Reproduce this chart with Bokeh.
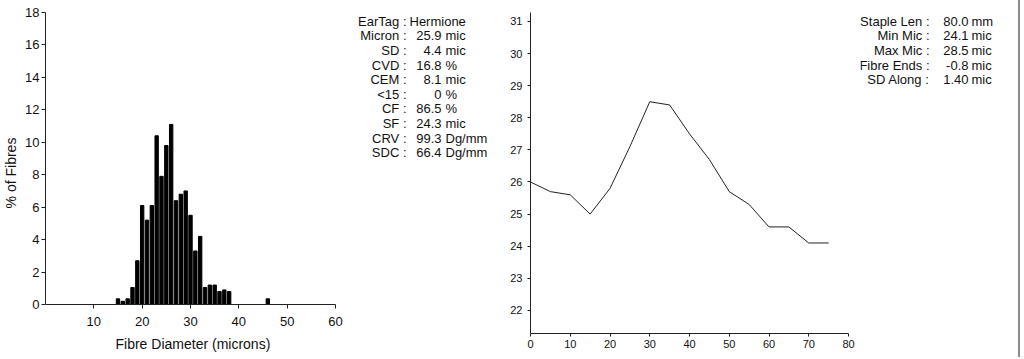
from bokeh.plotting import figure
from bokeh.layouts import row
from bokeh.models import FixedTicker, Range1d, Div, Title
from bokeh.core.properties import value
from bokeh.embed import file_html
from bokeh.resources import INLINE

# ---------------- data ----------------
diam_bins = [15, 16, 17, 18, 19, 20, 21, 22, 23, 24, 25, 26, 27, 28, 29, 30,
             31, 32, 33, 34, 35, 36, 37, 38, 46]
pct_fibres = [0.35, 0.2, 0.35, 1.05, 2.7, 6.1, 5.2, 6.1, 10.4, 7.9, 9.8, 11.1,
              6.4, 6.8, 7.0, 5.5, 3.3, 4.2, 1.05, 1.2, 1.2, 0.8, 0.9, 0.8, 0.35]

hist_xticks = [10, 20, 30, 40, 50, 60]
hist_yticks = [0, 2, 4, 6, 8, 10, 12, 14, 16, 18]

profile_pos = [0, 5, 10, 15, 20, 25, 30, 35, 40, 45, 50, 55, 60, 65, 70, 75]
profile_mic = [26.0, 25.7, 25.6, 25.0, 25.8, 27.1, 28.5, 28.4, 27.5, 26.7,
               25.7, 25.3, 24.6, 24.6, 24.1, 24.1]

prof_xticks = [0, 10, 20, 30, 40, 50, 60, 70, 80]
prof_yticks = [22, 23, 24, 25, 26, 27, 28, 29, 30, 31]

stats_labels = ["EarTag :", "Micron :", "SD :", "CVD :", "CEM :", "<15 :",
                "CF :", "SF :", "CRV :", "SDC :"]
stats_numbers = ["", "25.9", "4.4", "16.8", "8.1", "0", "86.5", "24.3",
                 "99.3", "66.4"]
stats_units = ["", "mic", "mic", "%", "mic", "%", "%", "mic", "Dg/mm", "Dg/mm"]
eartag = "Hermione"

prof_labels = ["Staple Len :", "Min Mic :", "Max Mic :", "Fibre Ends :",
               "SD Along :"]
prof_numbers = ["80.0", "24.1", "28.5", "-0.8", "1.40"]
prof_units = ["mm", "mic", "mic", "mic", "mic"]

FONT = "Liberation Sans"
TXT = "#111111"
H = 357
TOP = 12          # frame top (page px) shared by every figure of the row
BOT = 333         # frame bottom (page px) shared by every figure of the row


def style_axes(p, label_size):
    for ax in (p.xaxis, p.yaxis):
        ax.axis_line_color = "#222222"
        ax.axis_line_width = 1
        ax.major_tick_line_color = "#222222"
        ax.minor_tick_line_color = None
        ax.major_tick_in = 0
        ax.major_tick_out = 4
        ax.major_label_text_font = FONT
        ax.major_label_text_font_size = label_size
        ax.major_label_text_color = TXT
        ax.axis_label_text_font = FONT
        ax.axis_label_text_font_style = "normal"
        ax.axis_label_text_font_size = "14px"
        ax.axis_label_text_color = TXT
    p.grid.visible = False
    p.outline_line_color = None


# ---------------- histogram ----------------
# frame spans 12..333 (page y); value 0 sits at page y 304, 18 at page y 12
hist_ymax = 18
hist_ymin = -hist_ymax * (BOT - 304) / (304 - TOP)
hist_xmax = 60
hist_xend = hist_xmax * (345 - 45) / (335 - 45)
ph = figure(width=345, height=H, output_backend="svg", toolbar_location=None,
            x_range=Range1d(0, hist_xend), y_range=Range1d(hist_ymin, hist_ymax),
            min_border_left=45, min_border_right=0, min_border_top=TOP,
            min_border_bottom=H - BOT)
ph.vbar(x=diam_bins, top=pct_fibres, width=0.7, color="black")
style_axes(ph, "13px")
ph.xaxis.ticker = FixedTicker(ticks=hist_xticks)
ph.yaxis.ticker = FixedTicker(ticks=hist_yticks)
ph.xaxis.fixed_location = 0
ph.xaxis.bounds = (0, hist_xmax)
ph.yaxis.bounds = (0, hist_ymax)
ph.yaxis.axis_label = "% of Fibres"
ph.xaxis.major_label_standoff = 8
ph.yaxis.major_label_standoff = 2
ph.yaxis.axis_label_standoff = 3
ph.add_layout(Title(text="Fibre Diameter (microns)", align="left", offset=70,
                    standoff=0, text_font=FONT, text_font_size="14px",
                    text_font_style="normal", text_color=TXT), "below")

# ---------------- middle stats text ----------------
pm = figure(width=145, height=H, output_backend="svg", toolbar_location=None,
            x_range=Range1d(345, 490), y_range=Range1d(BOT, TOP),
            x_axis_location=None, y_axis_location=None,
            min_border_left=0, min_border_right=0, min_border_top=TOP,
            min_border_bottom=H - BOT)
pm.grid.visible = False
pm.outline_line_color = None
ys = [20.7 + 14.6 * i for i in range(len(stats_labels))]
common = dict(text_font=value(FONT), text_font_size="13px", text_color=TXT,
              text_baseline="middle")
pm.text(x=[406] * len(stats_labels), y=ys, text=stats_labels,
        text_align="right", **common)
pm.text(x=[441] * (len(ys) - 1), y=ys[1:], text=stats_numbers[1:],
        text_align="right", **common)
pm.text(x=[445] * (len(ys) - 1), y=ys[1:], text=stats_units[1:],
        text_align="left", **common)
pm.text(x=[409], y=[ys[0]], text=[eartag], text_align="left", **common)

# ---------------- profile line chart ----------------
pl = figure(width=370, height=H, output_backend="svg", toolbar_location=None,
            x_range=Range1d(0, 80), y_range=Range1d(21.28, 31.28),
            min_border_left=40, min_border_right=12, min_border_top=TOP,
            min_border_bottom=H - BOT)
pl.line(profile_pos, profile_mic, line_color="#222222", line_width=1)
style_axes(pl, "11px")
pl.xaxis.ticker = FixedTicker(ticks=prof_xticks)
pl.yaxis.ticker = FixedTicker(ticks=prof_yticks)
pl.xaxis.major_tick_out = 3
pl.yaxis.major_tick_out = 3
pl.xaxis.major_label_standoff = 3
pl.yaxis.major_label_standoff = 5

# ---------------- right text ----------------
pr = figure(width=158, height=H, output_backend="svg", toolbar_location=None,
            x_range=Range1d(860, 1018), y_range=Range1d(BOT, TOP),
            x_axis_location=None, y_axis_location=None,
            min_border_left=0, min_border_right=0, min_border_top=TOP,
            min_border_bottom=H - BOT)
pr.grid.visible = False
pr.outline_line_color = None
ys2 = [20.7 + 14.6 * i for i in range(len(prof_labels))]
pr.text(x=[929] * len(ys2), y=ys2, text=prof_labels, text_align="right", **common)
pr.text(x=[968] * len(ys2), y=ys2, text=prof_numbers, text_align="right", **common)
pr.text(x=[971] * len(ys2), y=ys2, text=prof_units, text_align="left", **common)

edge = Div(text="", width=2, height=H, margin=0,
           styles={"background-color": "#8a8a8a"})

layout = row(ph, pm, pl, pr, edge)
open("out.html", "w").write(file_html(layout, INLINE))
